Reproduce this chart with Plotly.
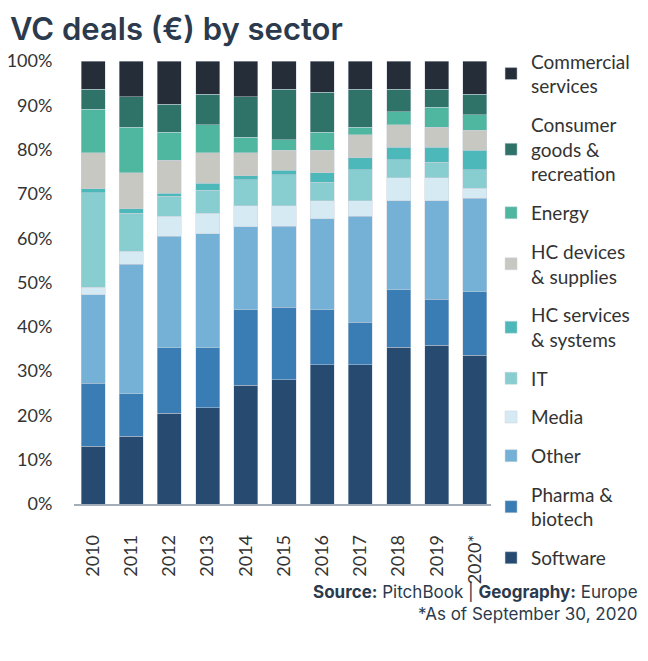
import plotly.graph_objects as go

years = ["2010", "2011", "2012", "2013", "2014", "2015", "2016", "2017", "2018", "2019", "2020*"]

software = [13.0, 15.3, 20.5, 21.7, 26.8, 28.0, 31.4, 31.4, 35.4, 35.8, 33.6]
pharma = [14.3, 9.6, 14.8, 13.6, 17.1, 16.4, 12.5, 9.6, 13.0, 10.4, 14.3]
other = [19.9, 29.2, 25.1, 25.7, 18.7, 18.3, 20.5, 24.0, 20.1, 22.3, 21.1]
media = [1.7, 2.9, 4.6, 4.6, 4.7, 4.6, 4.1, 3.5, 5.1, 5.1, 2.3]
it = [21.4, 8.6, 4.5, 5.2, 5.9, 7.0, 4.1, 6.9, 4.1, 3.5, 4.1]
hc_services = [0.9, 1.0, 0.7, 1.6, 0.9, 1.0, 2.2, 2.8, 2.8, 3.4, 4.4]
hc_devices = [8.1, 8.2, 7.4, 6.9, 5.2, 4.5, 5.0, 5.1, 5.1, 4.5, 4.6]
energy = [9.8, 10.3, 6.3, 6.3, 3.5, 2.4, 4.1, 1.8, 3.0, 4.6, 3.5]
consumer = [4.5, 6.8, 6.3, 6.9, 9.1, 11.4, 9.1, 8.5, 5.0, 4.0, 4.6]
commercial = [6.4, 8.1, 9.8, 7.5, 8.1, 6.4, 7.0, 6.4, 6.4, 6.4, 7.5]

series = [
    ("Software", software, "#264a70"),
    ("Pharma &<br>biotech", pharma, "#3a7db4"),
    ("Other", other, "#75b1d6"),
    ("Media", media, "#d6eaf4"),
    ("IT", it, "#88cdd0"),
    ("HC services<br>& systems", hc_services, "#4db8ba"),
    ("HC devices<br>& supplies", hc_devices, "#c8c8c3"),
    ("Energy", energy, "#4fb6a0"),
    ("Consumer<br>goods &<br>recreation", consumer, "#2e7268"),
    ("Commercial<br>services", commercial, "#252d38"),
]

fig = go.Figure()
n = len(series)
for i, (name, vals, color) in enumerate(series):
    fig.add_trace(go.Bar(
        x=years, y=vals, name=name, legendgroup=f"g{i}", legendrank=n - i,
        marker=dict(color=color, line=dict(color="rgba(200,210,220,0.6)", width=0.8)),
    ))

text_color = "#333333"
dark = "#2b3a4c"

# page body has an 8px margin, so the figure is 8px smaller and offset
W, H = 640, 653
PL, PT, PW, PH = 66, 53, 420, 443.5

fig.update_layout(
    width=W, height=H,
    barmode="stack", barnorm="fraction", bargap=0.37,
    plot_bgcolor="white", paper_bgcolor="white",
    margin=dict(l=PL, r=W - PL - PW, t=PT, b=H - PT - PH, autoexpand=False),
    xaxis=dict(
        tickangle=-90, tickfont=dict(family="Lato", size=18, color=text_color),
        showline=True, linecolor="#a3adb8", linewidth=1.5,
        ticks="outside", ticklen=22, tickcolor="rgba(0,0,0,0)",
        showgrid=False, automargin=False,
    ),
    yaxis=dict(
        range=[0, 1], dtick=0.1, tickformat=".0%",
        tickfont=dict(family="Lato", size=18, color=text_color),
        showgrid=False, zeroline=False, showline=False,
        ticks="outside", ticklen=17, tickcolor="rgba(0,0,0,0)",
        automargin=False,
    ),
    legend=dict(
        x=0.993, xanchor="left", y=1.042, yanchor="top",
        traceorder="grouped", tracegroupgap=11, maxheight=H,
        font=dict(family="Lato", size=19, color=text_color),
        itemclick=False,
    ),
    showlegend=True,
    annotations=[
        dict(text="VC deals (€) by sector",
             xref="paper", yref="paper", x=(0 - PL) / PW, y=(PT + PH - 0) / PH,
             xanchor="left", yanchor="top", showarrow=False,
             font=dict(family="Inter", size=31, color=dark, weight=600)),
        dict(text="<b>Source:</b> PitchBook | <b>Geography:</b> Europe",
             xref="paper", yref="paper", x=(632 - PL) / PW, y=(PT + PH - 584) / PH,
             xanchor="right", yanchor="middle", showarrow=False,
             font=dict(family="Inter", size=17, color=dark)),
        dict(text="*As of September 30, 2020",
             xref="paper", yref="paper", x=(632 - PL) / PW, y=(PT + PH - 607) / PH,
             xanchor="right", yanchor="middle", showarrow=False,
             font=dict(family="Inter", size=17, color=dark)),
    ],
)

fig.write_html("out.html")
